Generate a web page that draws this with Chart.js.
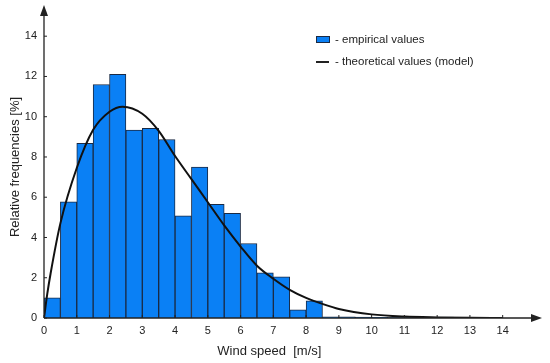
<!DOCTYPE html>
<html>
<head>
<meta charset="utf-8">
<script src="https://cdn.jsdelivr.net/npm/chart.js@4"></script>
<style>
  html, body { margin: 0; padding: 0; background: #fff; }
  #wrap { width: 550px; height: 363px; }
</style>
</head>
<body>
<div id="wrap"><canvas id="chart" width="550" height="363"></canvas></div>
<script>
/* ── Histogram: bin centres (m/s) and relative frequencies (%) ── */
const binCenters = [0.25, 0.75, 1.25, 1.75, 2.25, 2.75, 3.25, 3.75, 4.25, 4.75,
                    5.25, 5.75, 6.25, 6.75, 7.25, 7.75, 8.25, 8.75, 9.25, 9.75,
                    10.25, 10.75, 11.25, 11.75, 12.25, 12.75, 13.25, 13.75];
const empirical  = [1.0, 5.77, 8.68, 11.6, 12.1, 9.34, 9.42, 8.87, 5.07, 7.5,
                    5.65, 5.2, 3.7, 2.25, 2.05, 0.4, 0.85, 0.06, 0.06, 0.04,
                    0.03, 0.02, 0.02, 0.05, 0.05, 0.02, 0.01, 0.01];

/* ── Model curve ── */
const modelX = [0, 0.1, 0.2, 0.5, 1, 1.5, 2, 2.4, 3, 3.5, 4, 4.5, 5, 5.5, 6,
                6.5, 7, 7.5, 8, 8.5, 9, 10, 11, 12, 13, 14];
const modelY = [0, 1.2, 2.2, 4.7, 7.45, 9.35, 10.25, 10.5, 10.15, 9.3, 8.05, 6.9, 5.75,
                4.6, 3.55, 2.6, 1.95, 1.4, 1.0, 0.7, 0.45, 0.18, 0.07, 0.03, 0.01, 0];

/* ── Axis ticks and texts ── */
const xTicks = [0, 1, 2, 3, 4, 5, 6, 7, 8, 9, 10, 11, 12, 13, 14];
const yTicks = [0, 2, 4, 6, 8, 10, 12, 14];
const xTitle = 'Wind speed  [m/s]';
const yTitle = 'Relative frequencies [%]';
const legendLabels = ['- empirical values', '- theoretical values (model)'];

const BAR_BLUE = '#0a80f5';
const INK = '#222';
const FONT = "'Liberation Sans', Arial, sans-serif";

/* ── Axes with arrows, inward tick marks, titles and legend ── */
const decor = {
  id: 'decor',
  afterDatasetsDraw(chart) {
    const { ctx, chartArea: a, scales: { x, y } } = chart;
    ctx.save();
    ctx.strokeStyle = INK;
    ctx.fillStyle = INK;
    ctx.lineWidth = 1.3;

    // axis lines
    ctx.beginPath();
    ctx.moveTo(a.left, a.bottom);
    ctx.lineTo(a.right - 6, a.bottom);
    ctx.moveTo(a.left, a.bottom);
    ctx.lineTo(a.left, a.top + 6);
    ctx.stroke();

    // arrow heads
    ctx.beginPath();
    ctx.moveTo(a.right, a.bottom);
    ctx.lineTo(a.right - 11, a.bottom - 4);
    ctx.lineTo(a.right - 11, a.bottom + 4);
    ctx.closePath();
    ctx.fill();
    ctx.beginPath();
    ctx.moveTo(a.left, a.top);
    ctx.lineTo(a.left - 4, a.top + 11);
    ctx.lineTo(a.left + 4, a.top + 11);
    ctx.closePath();
    ctx.fill();

    // tick marks pointing inward
    ctx.lineWidth = 1;
    ctx.beginPath();
    xTicks.forEach(v => {
      const px = x.getPixelForValue(v);
      ctx.moveTo(px, a.bottom);
      ctx.lineTo(px, a.bottom - 3);
    });
    yTicks.forEach(v => {
      const py = y.getPixelForValue(v);
      ctx.moveTo(a.left, py);
      ctx.lineTo(a.left + 3, py);
    });
    ctx.stroke();

    // axis titles
    ctx.font = '13px ' + FONT;
    ctx.textAlign = 'center';
    ctx.textBaseline = 'middle';
    ctx.fillText(xTitle, (x.getPixelForValue(0) + x.getPixelForValue(14)) / 2 - 4, 351);
    ctx.save();
    ctx.translate(15, 167);
    ctx.rotate(-Math.PI / 2);
    ctx.fillText(yTitle, 0, 0);
    ctx.restore();

    // legend
    ctx.font = '11.5px ' + FONT;
    ctx.textAlign = 'left';
    ctx.fillStyle = BAR_BLUE;
    ctx.fillRect(316.5, 36.5, 13, 6);
    ctx.strokeStyle = '#1a2a44';
    ctx.strokeRect(316.5, 36.5, 13, 6);
    ctx.fillStyle = INK;
    ctx.fillText(legendLabels[0], 335, 40);
    ctx.strokeStyle = INK;
    ctx.lineWidth = 2;
    ctx.beginPath();
    ctx.moveTo(316, 62);
    ctx.lineTo(329, 62);
    ctx.stroke();
    ctx.fillText(legendLabels[1], 335, 62);

    ctx.restore();
  }
};

new Chart(document.getElementById('chart'), {
  type: 'bar',
  data: {
    datasets: [
      {
        type: 'line',
        label: legendLabels[1],
        data: modelX.map((v, i) => ({ x: v, y: modelY[i] })),
        borderColor: '#111',
        borderWidth: 2,
        pointRadius: 0,
        fill: false,
        cubicInterpolationMode: 'monotone',
        order: 0
      },
      {
        label: legendLabels[0],
        data: binCenters.map((v, i) => ({ x: v, y: empirical[i] })),
        backgroundColor: BAR_BLUE,
        borderColor: '#1a2a44',
        borderWidth: 1,
        barPercentage: 1,
        categoryPercentage: 1,
        order: 1
      }
    ]
  },
  options: {
    responsive: false,
    animation: false,
    layout: { padding: { top: 5, right: 8, left: 0, bottom: 0 } },
    scales: {
      x: {
        type: 'linear',
        min: 0,
        max: 15.2,
        offset: false,
        grid: { display: false, drawTicks: false },
        border: { display: false },
        afterBuildTicks: s => { s.ticks = xTicks.map(v => ({ value: v })); },
        afterFit: s => { s.height = 45; s.paddingLeft = 0; s.paddingRight = 0; },
        ticks: { color: INK, font: { size: 11, family: FONT }, padding: 6, maxRotation: 0 }
      },
      y: {
        min: 0,
        max: 15.55,
        grid: { display: false, drawTicks: false },
        border: { display: false },
        afterBuildTicks: s => { s.ticks = yTicks.map(v => ({ value: v })); },
        afterFit: s => { s.width = 44; s.paddingTop = 0; s.paddingBottom = 0; },
        ticks: { color: INK, font: { size: 11, family: FONT }, padding: 7 }
      }
    },
    plugins: {
      legend: { display: false },
      tooltip: { enabled: false }
    }
  },
  plugins: [decor]
});
</script>
</body>
</html>
